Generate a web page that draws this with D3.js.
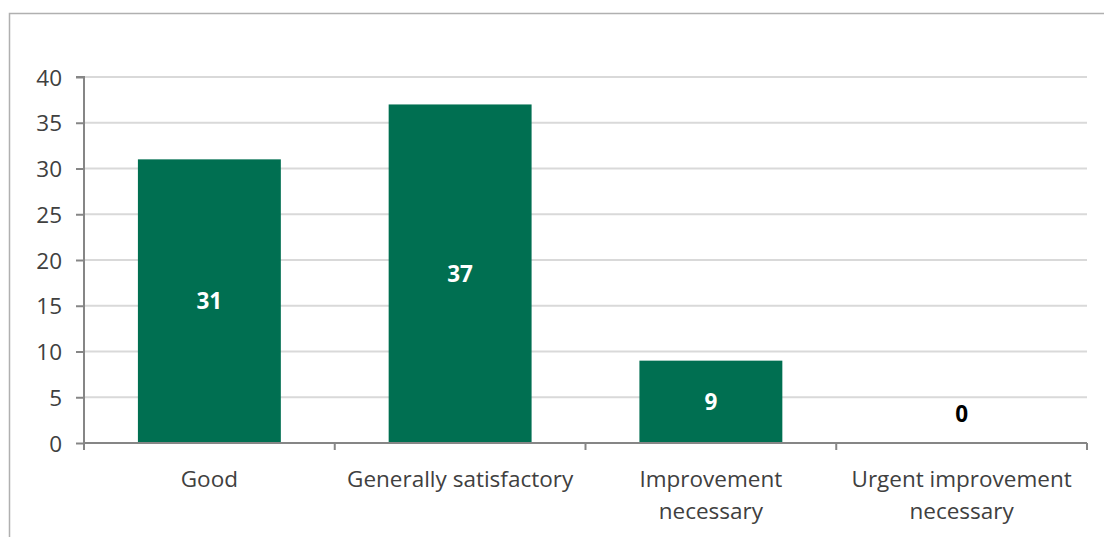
<!DOCTYPE html>
<html><head><meta charset="utf-8">
<script src="https://cdn.jsdelivr.net/npm/d3@7"></script>
<style>
html,body{margin:0;padding:0;background:#fff;}
svg{display:block;}
text{font-family:"Open Sans","Liberation Sans",Arial,sans-serif;}
</style></head>
<body>
<script>
const categories = ["Good", "Generally satisfactory", "Improvement necessary", "Urgent improvement necessary"];
const values = [31, 37, 9, 0];
const yTicks = [0, 5, 10, 15, 20, 25, 30, 35, 40];

const W = 1104, H = 537;
const FONT = "'Open Sans', 'Liberation Sans', Arial, sans-serif";
const FS = "22.5px";
const svg = d3.select("body").append("svg").attr("width", W).attr("height", H);

// chart border
svg.append("path").attr("d", `M9.5,${H} V13.5 H${W}`).attr("fill", "none").attr("stroke", "#b0b0b0").attr("stroke-width", 1.5);

const pL = 84, pR = 1087, pT = 77, pB = 443;
const x = d3.scaleBand().domain(categories).range([pL, pR]).paddingInner(0.43).paddingOuter(0.215);
const xb = d3.scaleBand().domain(categories).range([pL, pR]);
const y = d3.scaleLinear().domain([0, 40]).range([pB, pT]);

// gridlines
svg.append("g").selectAll("line").data(yTicks.filter(d => d > 0)).join("line")
  .attr("x1", pL).attr("x2", pR).attr("y1", d => y(d)).attr("y2", d => y(d))
  .attr("stroke", "#d9d9d9").attr("stroke-width", 2);

// bars
svg.append("g").selectAll("rect").data(values).join("rect")
  .attr("x", (d, i) => x(categories[i])).attr("width", x.bandwidth())
  .attr("y", d => y(d)).attr("height", d => y(0) - y(d))
  .attr("fill", "#006f51");

// y axis
const yAxis = d3.axisLeft(y).tickValues(yTicks).tickSize(8).tickPadding(14);
const gy = svg.append("g").attr("transform", `translate(${pL},0)`).call(yAxis);
gy.attr("font-family", null).attr("font-size", null);
gy.select(".domain").attr("stroke", "#868686").attr("stroke-width", 2).attr("d", `M-8,${pT}H0V${pB}`);
gy.selectAll(".tick line").attr("stroke", "#868686").attr("stroke-width", 2);
gy.selectAll(".tick text").attr("fill", "#404040").attr("dy", "0.36em")
  .style("font-size", FS).style("font-family", FONT);

// x axis line and ticks at band boundaries
const gx = svg.append("g");
gx.append("line").attr("x1", pL).attr("x2", pR).attr("y1", pB).attr("y2", pB).attr("stroke", "#868686").attr("stroke-width", 2);
const bounds = categories.map(c => xb(c)).concat([pR]);
gx.selectAll("line.t").data(bounds).join("line").attr("class", "t")
  .attr("x1", d => d).attr("x2", d => d).attr("y1", pB).attr("y2", pB + 7)
  .attr("stroke", "#868686").attr("stroke-width", 2);

// category labels with wrapping
const maxW = xb.bandwidth() - 8;
categories.forEach(c => {
  const cx = xb(c) + xb.bandwidth() / 2;
  const t = svg.append("text").attr("x", cx).attr("y", 487)
    .attr("text-anchor", "middle").attr("fill", "#404040")
    .style("font-size", FS).style("font-family", FONT);
  const words = c.split(" ");
  let line = [], lines = [];
  const tmp = t.append("tspan");
  words.forEach(w => {
    line.push(w);
    tmp.text(line.join(" "));
    if (tmp.node().getComputedTextLength() > maxW && line.length > 1) {
      line.pop(); lines.push(line.join(" ")); line = [w];
    }
  });
  lines.push(line.join(" "));
  tmp.remove();
  lines.forEach((l, i) => t.append("tspan").attr("x", cx).attr("y", 487 + i * 32).text(l));
});

// data labels
svg.append("g").selectAll("text").data(values).join("text")
  .attr("x", (d, i) => x(categories[i]) + x.bandwidth() / 2)
  .attr("y", d => d > 3 ? (y(d) + y(0)) / 2 + 8 : y(d) - 21)
  .attr("text-anchor", "middle")
  .attr("fill", d => d > 3 ? "#ffffff" : "#000000")
  .style("font-size", FS).style("font-weight", "bold").style("font-family", FONT)
  .text(d => d);
</script>
</body></html>
